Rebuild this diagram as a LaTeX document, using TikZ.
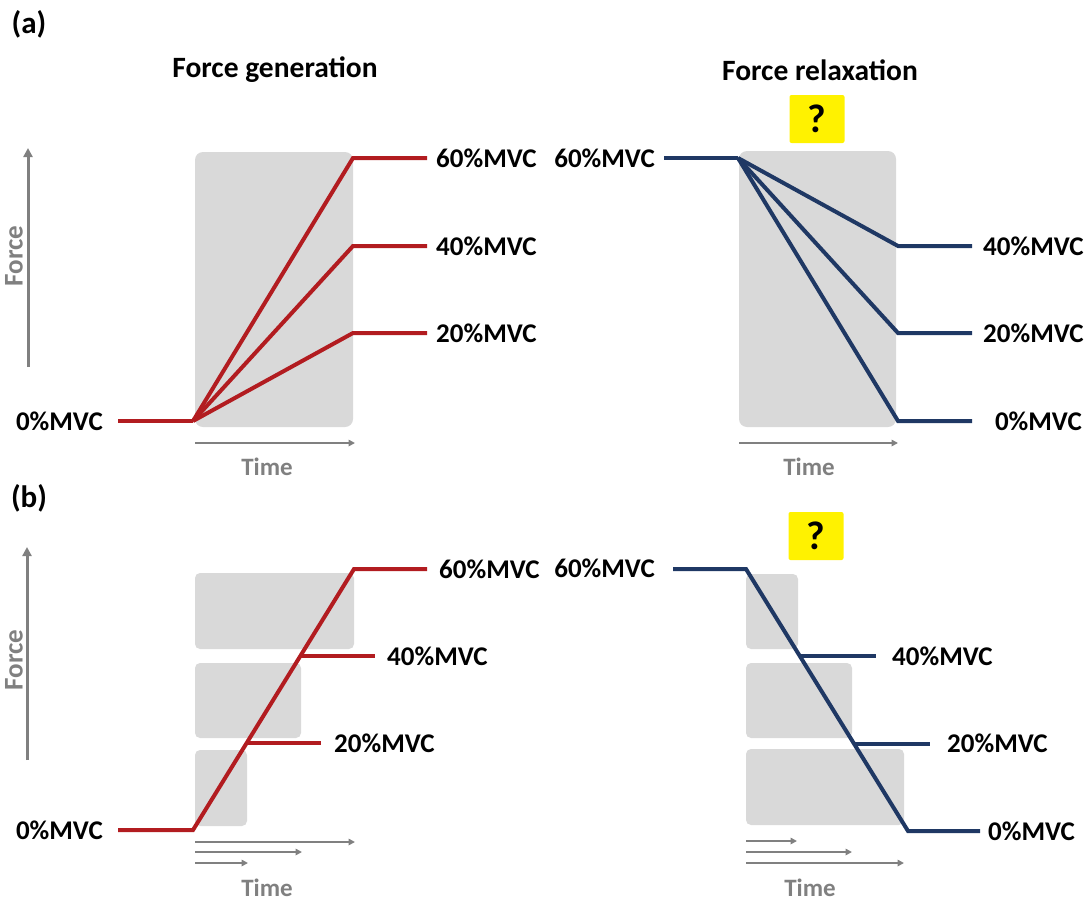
\documentclass[tikz,border=0pt]{standalone}
\usepackage{fontspec}
\setmainfont{Carlito}
\usetikzlibrary{arrows.meta,calc}
\definecolor{fred}{RGB}{178,28,32}
\definecolor{fblue}{RGB}{31,56,100}
\definecolor{boxgray}{RGB}{217,217,217}
\definecolor{axgray}{RGB}{128,128,128}
\begin{document}
\begin{tikzpicture}[x=1pt,y=-1pt,
  lbl/.style={font=\bfseries\fontsize{27}{32}\selectfont, inner sep=0pt},
  ttl/.style={font=\bfseries\fontsize{29.5}{35}\selectfont, inner sep=0pt},
  axtxt/.style={font=\bfseries\fontsize{25}{30}\selectfont, text=axgray, inner sep=0pt},
  redline/.style={draw=fred, line width=4pt},
  blueline/.style={draw=fblue, line width=4pt},
  zone/.style={fill=boxgray, rounded corners=8pt},
  szone/.style={fill=boxgray, rounded corners=5pt},
  axarrow/.style={draw=axgray, line width=3pt, -{Triangle[length=9pt,width=9pt]}},
  tarrow/.style={draw=axgray, line width=2.4pt, -{Triangle[length=6.5pt,width=6.5pt]}},
  qbox/.style={fill=yellow, rounded corners=2pt, minimum width=55pt, minimum height=48pt, inner sep=0pt, font=\bfseries\fontsize{40}{44}\selectfont}
]
\useasboundingbox (0,0) rectangle (1092,905);

% ---------- titles ----------
\node[ttl, font=\bfseries\fontsize{31}{36}\selectfont] (la) at (29,24) {(a)};
\node[ttl, font=\bfseries\fontsize{31}{36}\selectfont] (lb) at (29,498) {(b)};
\node[ttl] (tgen) at (275,70) {Force generation};
\node[ttl] (trel) at (820,70) {Force relaxation};

% ================= (a) left =================
\fill[zone] (195,152) rectangle (353,427);
\coordinate (fa1) at (28,367); \coordinate (fa2) at (28,148);
\draw[axarrow] (fa1) -- (fa2);
\node[axtxt, font=\bfseries\fontsize{27}{30}\selectfont, rotate=90] (forceA) at (14,256) {Force};
\coordinate (ta1) at (195,443); \coordinate (ta2) at (355,443);
\draw[tarrow, line width=2.8pt] (ta1) -- (ta2);
\node[axtxt] (timeA) at (267,467) {Time};

\coordinate (g0s) at (118,421); \coordinate (g0) at (193,421);
\coordinate (g60) at (353,158); \coordinate (g60e) at (427,158);
\coordinate (g40) at (353,246); \coordinate (g40e) at (427,246);
\coordinate (g20) at (353,333); \coordinate (g20e) at (427,333);
\draw[redline] (g0s) -- (g0);
\draw[redline, line join=miter] (g0) -- (g60) -- (g60e);
\draw[redline, line join=miter] (g0) -- (g40) -- (g40e);
\draw[redline, line join=miter] (g0) -- (g20) -- (g20e);
\node[lbl, anchor=east] (ga0) at (103,421) {0\%MVC};
\node[lbl, anchor=west] (ga60) at (436,158) {60\%MVC};
\node[lbl, anchor=west] (ga40) at (436,246) {40\%MVC};
\node[lbl, anchor=west] (ga20) at (436,333) {20\%MVC};

% ================= (a) right =================
\fill[zone] (739,151) rectangle (896,427);
\node[qbox] (qa) at (817,119) {?};
\coordinate (tb1) at (739,443); \coordinate (tb2) at (898,443);
\draw[tarrow, line width=2.8pt] (tb1) -- (tb2);
\node[axtxt] (timeB) at (809,467) {Time};

\coordinate (r60s) at (664,158); \coordinate (r60) at (738,158);
\coordinate (r40) at (898,246); \coordinate (r40e) at (972,246);
\coordinate (r20) at (898,333); \coordinate (r20e) at (972,333);
\coordinate (r0) at (898,421); \coordinate (r0e) at (972,421);
\draw[blueline] (r60s) -- (r60);
\draw[blueline, line join=miter] (r60) -- (r40) -- (r40e);
\draw[blueline, line join=miter] (r60) -- (r20) -- (r20e);
\draw[blueline, line join=miter] (r60) -- (r0) -- (r0e);
\node[lbl, anchor=east] (ra60) at (655,158) {60\%MVC};
\node[lbl, anchor=west] (ra40) at (983,246) {40\%MVC};
\node[lbl, anchor=west] (ra20) at (983,333) {20\%MVC};
\node[lbl, anchor=east] (ra0) at (1082,421) {0\%MVC};

% ================= (b) left =================
\fill[szone] (195,573) rectangle (354,649);
\fill[szone] (195,663) rectangle (301,738);
\fill[szone] (195,750) rectangle (247,826);
\coordinate (fb1) at (27,760); \coordinate (fb2) at (27,547);
\draw[axarrow] (fb1) -- (fb2);
\node[axtxt, font=\bfseries\fontsize{27}{30}\selectfont, rotate=90] (forceB) at (14,660) {Force};
\coordinate (tc1) at (195,842); \coordinate (tc2) at (355,842);
\coordinate (tc3) at (195,852); \coordinate (tc4) at (302,852);
\coordinate (tc5) at (195,863); \coordinate (tc6) at (248,863);
\draw[tarrow] (tc1) -- (tc2);
\draw[tarrow] (tc3) -- (tc4);
\draw[tarrow] (tc5) -- (tc6);
\node[axtxt] (timeC) at (267,888) {Time};

\coordinate (b0s) at (118,830); \coordinate (b0) at (193,830);
\coordinate (b60) at (354,569); \coordinate (b60e) at (427,569);
\coordinate (b40) at ($(b0)!2/3!(b60)$); \coordinate (b40e) at (375,656);
\coordinate (b20) at ($(b0)!1/3!(b60)$); \coordinate (b20e) at (321,743);
\draw[redline, line join=miter] (b0s) -- (b0) -- (b60) -- (b60e);
\draw[redline] (b40) -- (b40e |- b40);
\draw[redline] (b20) -- (b20e |- b20);
\node[lbl, anchor=east] (gb0) at (103,830) {0\%MVC};
\node[lbl, anchor=west] (gb60) at (439,569) {60\%MVC};
\node[lbl, anchor=west] (gb40) at (387,656) {40\%MVC};
\node[lbl, anchor=west] (gb20) at (334,743) {20\%MVC};

% ================= (b) right =================
\fill[szone] (746,574) rectangle (798,649);
\fill[szone] (746,663) rectangle (852,738);
\fill[szone] (746,749) rectangle (904,825);
\node[qbox] (qb) at (816,536) {?};
\coordinate (td1) at (746,841); \coordinate (td2) at (797,841);
\coordinate (td3) at (746,852); \coordinate (td4) at (852,852);
\coordinate (td5) at (746,863); \coordinate (td6) at (904,863);
\draw[tarrow] (td1) -- (td2);
\draw[tarrow] (td3) -- (td4);
\draw[tarrow] (td5) -- (td6);
\node[axtxt] (timeD) at (810,888) {Time};

\coordinate (s60s) at (673,569); \coordinate (s60) at (746,569);
\coordinate (s0) at (908,831); \coordinate (s0e) at (980,831);
\coordinate (s40) at ($(s60)!1/3!(s0)$); \coordinate (s40e) at (876,656);
\coordinate (s20) at ($(s60)!2/3!(s0)$); \coordinate (s20e) at (930,743);
\draw[blueline, line join=miter] (s60s) -- (s60) -- (s0) -- (s0e);
\draw[blueline] (s40) -- (s40e |- s40);
\draw[blueline] (s20) -- (s20e |- s20);
\node[lbl, anchor=east] (sb60) at (655,568) {60\%MVC};
\node[lbl, anchor=west] (sb40) at (892,656) {40\%MVC};
\node[lbl, anchor=west] (sb20) at (947,743) {20\%MVC};
\node[lbl, anchor=west] (sb0) at (988,831) {0\%MVC};
\end{tikzpicture}
\end{document}
